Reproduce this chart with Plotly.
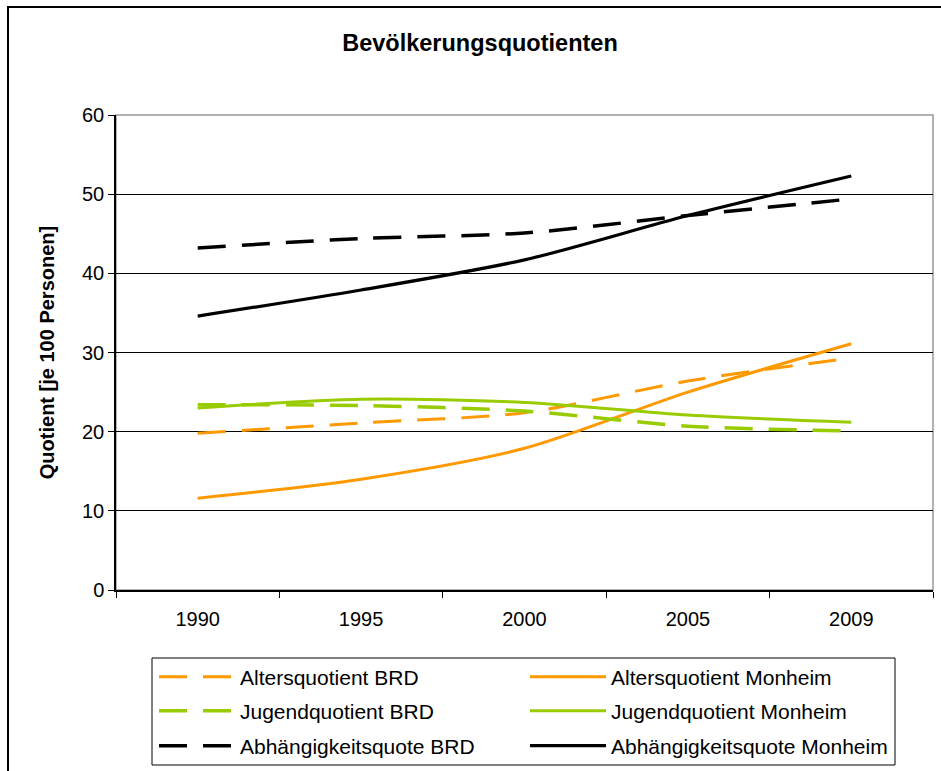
import plotly.graph_objects as go

years = ["1990", "1995", "2000", "2005", "2009"]
alters_brd = [19.8, 21.1, 22.4, 26.4, 29.3]
alters_monheim = [11.6, 14.0, 17.9, 25.0, 31.1]
jugend_brd = [23.4, 23.3, 22.6, 20.7, 20.1]
jugend_monheim = [23.0, 24.1, 23.7, 22.1, 21.2]
abh_brd = [43.2, 44.4, 45.1, 47.3, 49.4]
abh_monheim = [34.6, 37.9, 41.7, 47.3, 52.3]

ORANGE = "#FF9900"
GREEN = "#99CC00"
BLACK = "#000000"
FONT = "Liberation Sans, Arial, sans-serif"
DASH = "28px,16px"

W, H = 941, 771
L, R, T, B = 116, 933, 115, 590
pw, ph = R - L, B - T


def px_x(x):
    return (x - L) / pw


def px_y(y):
    return (B - y) / ph


fig = go.Figure()
series = [
    ("Altersquotient BRD", alters_brd, ORANGE, DASH, 3, "legend"),
    ("Altersquotient Monheim", alters_monheim, ORANGE, "solid", 3, "legend"),
    ("Jugendquotient BRD", jugend_brd, GREEN, DASH, 3.5, "legend2"),
    ("Jugendquotient Monheim", jugend_monheim, GREEN, "solid", 3, "legend2"),
    ("Abhängigkeitsquote BRD", abh_brd, BLACK, DASH, 3.5, "legend3"),
    ("Abhängigkeitsquote Monheim", abh_monheim, BLACK, "solid", 3.2, "legend3"),
]
for name, vals, color, dash, width, lg in series:
    fig.add_trace(go.Scatter(
        x=years, y=vals, name=name, mode="lines",
        line=dict(color=color, dash=dash, width=width, shape="spline", smoothing=0.8),
        legend=lg,
    ))

legend_common = dict(
    orientation="h", entrywidth=280, entrywidthmode="pixels",
    itemwidth=76, font=dict(family=FONT, size=21, color="black"),
    bgcolor="rgba(0,0,0,0)", xanchor="left", yanchor="middle",
    xref="container", yref="container", x=154 / W, tracegroupgap=0,
)

fig.update_layout(
    width=W, height=H,
    margin=dict(l=L, r=W - R, t=T, b=H - B, autoexpand=False),
    paper_bgcolor="white", plot_bgcolor="white",
    title=dict(text="<b>Bevölkerungsquotienten</b>", x=480 / W, xref="container",
               xanchor="center", y=1 - 43 / H, yref="container", yanchor="middle",
               font=dict(family=FONT, size=23.5, color="black")),
    font=dict(family=FONT, size=20, color="black"),
    legend=dict(**legend_common, y=1 - 677 / H),
    legend2=dict(**legend_common, y=1 - 711 / H),
    legend3=dict(**legend_common, y=1 - 746 / H),
    xaxis=dict(type="category", range=[-0.5, 4.5], tickson="boundaries",
               ticks="outside", ticklen=6, tickcolor="black", showline=True,
               linecolor="black", linewidth=1.5, showgrid=False, automargin=False,
               ticklabelstandoff=10,
               tickfont=dict(family=FONT, size=20, color="black")),
    yaxis=dict(range=[0, 60], dtick=10, ticks="outside", ticklen=6, tickcolor="black",
               showline=True, linecolor="black", linewidth=1.5, automargin=False,
               showgrid=True, gridcolor="black", gridwidth=1, zeroline=False,
               tickfont=dict(family=FONT, size=20, color="black"),
               title=dict(text="<b>Quotient [je 100 Personen]</b>", standoff=22,
                          font=dict(family=FONT, size=20, color="black"))),
    shapes=[
        dict(type="rect", xref="paper", yref="paper", x0=0, x1=1, y0=0, y1=1,
             line=dict(color="#999999", width=1.5), layer="below"),
        dict(type="rect", xref="paper", yref="paper",
             x0=px_x(8), x1=px_x(950), y0=px_y(780), y1=px_y(7),
             line=dict(color="black", width=2)),
        dict(type="rect", xref="paper", yref="paper",
             x0=px_x(152), x1=px_x(895), y0=px_y(765), y1=px_y(658),
             line=dict(color="black", width=1)),
    ],
)

fig.write_html("out.html", config={"displayModeBar": False},
               post_script="document.body.style.margin='0';document.body.style.overflow='hidden';")
